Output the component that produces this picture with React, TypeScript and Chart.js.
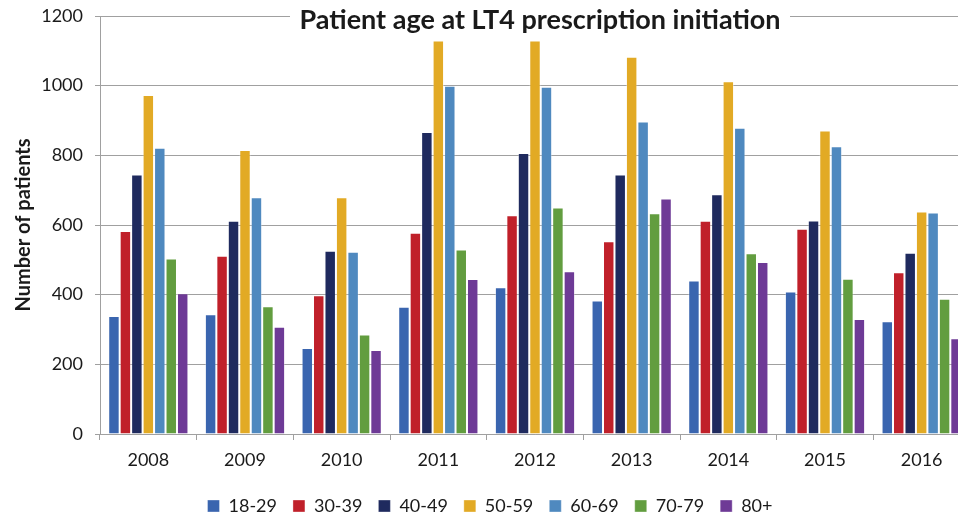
import React, { useEffect, useRef } from "react";
import { Chart, registerables } from "chart.js";

Chart.register(...registerables);

const years = ["2008", "2009", "2010", "2011", "2012", "2013", "2014", "2015", "2016"];
const ageGroups = ["18-29", "30-39", "40-49", "50-59", "60-69", "70-79", "80+"];
const colors = ["#3A65AF", "#C0202A", "#1F2A5E", "#E2AA25", "#4F89BF", "#629D3F", "#6E3A96"];

const age18_29 = [339, 344, 247, 365, 421, 383, 441, 409, 324];
const age30_39 = [583, 512, 398, 578, 628, 553, 612, 589, 464];
const age40_49 = [745, 612, 526, 867, 807, 745, 688, 613, 520];
const age50_59 = [973, 815, 680, 1130, 1130, 1083, 1013, 871, 639];
const age60_69 = [822, 680, 523, 1000, 997, 897, 879, 826, 636];
const age70_79 = [504, 367, 286, 530, 650, 634, 519, 446, 388];
const age80plus = [404, 308, 241, 445, 467, 676, 494, 330, 275];

const seriesValues = [age18_29, age30_39, age40_49, age50_59, age60_69, age70_79, age80plus];

const yTicks = [0, 200, 400, 600, 800, 1000, 1200];
const titleText = "Patient age at LT4 prescription initiation";
const yTitle = "Number of patients";

const FONT = "Lato, 'Open Sans', 'DejaVu Sans', sans-serif";

const titlePlugin = {
  id: "insideTitle",
  afterDraw(chart: any) {
    const ctx = chart.ctx;
    ctx.save();
    ctx.fillStyle = "#ffffff";
    ctx.fillRect(290, 4, 500, 30);
    ctx.fillStyle = "#1a1a1a";
    ctx.font = "bold 27px " + FONT;
    ctx.textAlign = "center";
    ctx.textBaseline = "alphabetic";
    ctx.fillText(titleText, 540, 29);
    ctx.restore();
  },
};

export default function App() {
  const ref = useRef<HTMLCanvasElement | null>(null);

  useEffect(() => {
    if (!ref.current) return;
    const chart = new Chart(ref.current, {
      type: "bar",
      data: {
        labels: years,
        datasets: ageGroups.map((g, i) => ({
          label: g,
          data: seriesValues[i],
          backgroundColor: colors[i],
          borderColor: "rgba(255,255,255,0.35)",
          borderWidth: 1,
          categoryPercentage: 0.83,
          barPercentage: 1.0,
        })),
      },
      options: {
        responsive: false,
        animation: false,
        maintainAspectRatio: false,
        layout: { padding: { top: 16, right: 5, left: 10, bottom: -10 } },
        plugins: {
          title: { display: false },
          tooltip: { enabled: false },
          legend: {
            position: "bottom",
            labels: {
              boxWidth: 12,
              boxHeight: 12,
              padding: 16,
              color: "#1a1a1a",
              font: { family: FONT, size: 18 },
            },
          },
        },
        scales: {
          x: {
            grid: {
              offset: true,
              drawOnChartArea: false,
              drawTicks: true,
              tickLength: 6,
              color: "#A0A0A0",
            },
            border: { color: "#A0A0A0", width: 1 },
            ticks: {
              color: "#1a1a1a",
              padding: 9,
              font: { family: FONT, size: 18 },
            },
            afterFit(scale: any) {
              scale.height = 47;
              scale.paddingLeft = 0;
              scale.paddingRight = 0;
            },
          },
          y: {
            min: 0,
            max: 1200,
            afterBuildTicks(scale: any) {
              scale.ticks = yTicks.map((v) => ({ value: v }));
            },
            grid: {
              color: "#A0A0A0",
              tickLength: 5,
            },
            border: { color: "#A0A0A0", width: 1 },
            ticks: {
              color: "#1a1a1a",
              padding: 12,
              font: { family: FONT, size: 18 },
              callback: (v: any) => String(v),
            },
            title: {
              display: true,
              text: yTitle,
              color: "#1a1a1a",
              font: { family: FONT, size: 20, weight: "bold" },
              padding: { top: 2, bottom: 0 },
            },
            afterFit(scale: any) {
              scale.width = 90;
              scale.paddingTop = 0;
              scale.paddingBottom = 0;
            },
          },
        },
      },
      plugins: [titlePlugin],
    });
    return () => chart.destroy();
  }, []);

  return (
    <div style={{ position: "fixed", left: 0, top: 0, width: 958, height: 515, overflow: "hidden", background: "#fff" }}>
      <canvas ref={ref} width={975} height={515} style={{ display: "block", width: 975, height: 515 }} />
    </div>
  );
}
